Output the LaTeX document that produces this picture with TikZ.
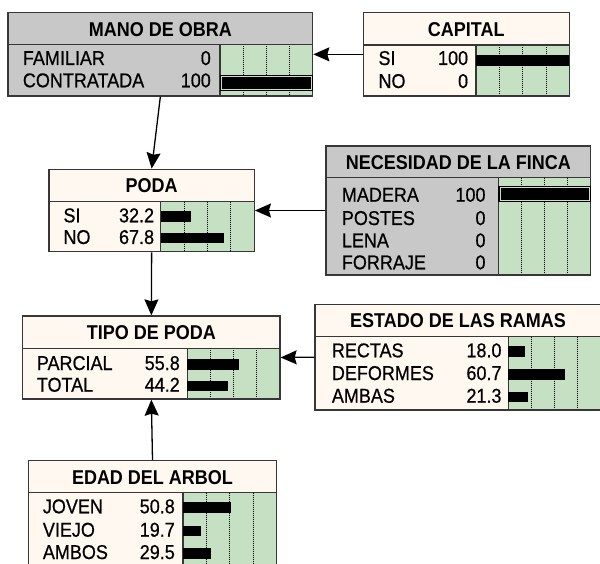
\documentclass[tikz,border=0pt]{standalone}
\usepackage{fontspec}
\setmainfont{Liberation Sans}[FakeStretch=0.9]
\newfontfamily\itemfont{Liberation Sans}[FakeStretch=0.9,FakeBold=0.6]
\usetikzlibrary{arrows.meta,fit}
\definecolor{nodegrey}{RGB}{200,200,200}
\definecolor{nodecream}{RGB}{255,248,240}
\definecolor{bargreen}{RGB}{197,224,195}
\definecolor{edgegrey}{RGB}{55,55,55}
\tikzset{
  boxline/.style={draw=edgegrey,line width=1.3pt},
  gridline/.style={black,line width=0.9pt,dash pattern=on 1pt off 1pt},
  itemtext/.style={inner sep=0pt,font=\fontsize{20}{22}\itemfont},
  titletext/.style={inner sep=0pt,font=\fontsize{20}{22}\selectfont\bfseries,anchor=base},
  link/.style={line width=1.3pt,black,-{Stealth[length=16pt,width=14pt,inset=2pt]}},
}
% #1 name #2 left #3 top #4 right #5 title bottom #6 bottom #7 bar left #8 fill #9 title
\newcommand{\netbox}[9]{%
  \fill[#8] (#2,#3) rectangle (#4,#6);
  \fill[bargreen] (#7,#5) rectangle (#4,#6);
  \foreach \f in {0.25,0.5,0.75}{\draw[gridline] ({#7+\f*(#4-#7)},#5) -- ({#7+\f*(#4-#7)},#6);}
  \node[titletext] (#1-title) at ({(#2+#4)/2},{#3+23.5}) {#9};
  \draw[boxline] (#2,#5) -- (#4,#5);
  \draw[boxline] (#7,#5) -- (#7,#6);
  \node[fit={(#2,#3) (#4,#6)},inner sep=0pt,boxline] (#1) {};
}
% #1 label x #2 value x #3 baseline #4 label #5 value
\newcommand{\netrow}[5]{%
  \node[itemtext,anchor=base west] at (#1,#3) {#4};
  \node[itemtext,anchor=base east] at (#2,#3) {#5};
}
% #1 bar left #2 bar right #3 baseline #4 fraction
\newcommand{\netbar}[4]{%
  \fill[black] (#1,{#3-11}) rectangle ({#1+#4*(#2-#1)},{#3-0.5});
}
% evidence bar: #1 left #2 right #3 top #4 bottom
\newcommand{\findbar}[4]{%
  \fill[black] (#1,#3) rectangle (#2,#4);
  \draw[bargreen,line width=0.8pt] ({#1+1.6},{#3+1.6}) rectangle ({#2-1.6},{#4-1.6});
  \fill[black] ({#1+2.4},{#3+2.4}) rectangle ({#2-2.4},{#4-2.4});
}
\begin{document}
\begin{tikzpicture}[x=1pt,y=-1pt]
\clip (0,0) rectangle (600,564);
\fill[white] (0,0) rectangle (600,564);

% MANO DE OBRA
\netbox{mano}{8}{12.7}{312.7}{44.3}{96}{220}{nodegrey}{MANO DE OBRA}
\netrow{22.7}{211}{65}{FAMILIAR}{0}
\netrow{22.7}{211}{87.3}{CONTRATADA}{100}
\findbar{220}{312.7}{75}{90.7}

% CAPITAL
\netbox{capital}{363.3}{12.7}{569.3}{45}{96}{476}{nodecream}{CAPITAL}
\netrow{378.3}{468.3}{65}{SI}{100}
\netrow{378.3}{468.3}{88}{NO}{0}
\fill[black] (476,55) rectangle (569.3,65.7);

% PODA
\netbox{poda}{49}{169.3}{254.3}{201.7}{251.7}{160.7}{nodecream}{PODA}
\netrow{63.3}{154.3}{222.3}{SI}{32.2}
\netrow{63.3}{154.3}{244}{NO}{67.8}
\netbar{160.7}{254.3}{222.3}{0.322}
\netbar{160.7}{254.3}{244}{0.678}

% NECESIDAD DE LA FINCA
\netbox{necesidad}{326}{146}{590.7}{177.7}{275}{498.3}{nodegrey}{NECESIDAD DE LA FINCA}
\netrow{341.7}{485.7}{201.7}{MADERA}{100}
\netrow{341.7}{485.7}{225}{POSTES}{0}
\netrow{341.7}{485.7}{247.3}{LENA}{0}
\netrow{341.7}{485.7}{269.3}{FORRAJE}{0}
\findbar{498.3}{590.7}{186}{201.7}

% TIPO DE PODA
\netbox{tipo}{22.7}{316}{280}{348.3}{399}{187.3}{nodecream}{TIPO DE PODA}
\netrow{36.7}{180}{370}{PARCIAL}{55.8}
\netrow{36.7}{180}{391.7}{TOTAL}{44.2}
\netbar{187.3}{280}{370}{0.558}
\netbar{187.3}{280}{391.7}{0.442}

% ESTADO DE LAS RAMAS
\netbox{estado}{315}{304.3}{601}{336.7}{410}{508.3}{nodecream}{ESTADO DE LAS RAMAS}
\netrow{331.7}{501.7}{357.3}{RECTAS}{18.0}
\netrow{331.7}{501.7}{380}{DEFORMES}{60.7}
\netrow{331.7}{501.7}{402.7}{AMBAS}{21.3}
\netbar{508.3}{601}{357.3}{0.180}
\netbar{508.3}{601}{380}{0.607}
\netbar{508.3}{601}{402.7}{0.213}

% EDAD DEL ARBOL
\netbox{edad}{28.3}{460.7}{276.7}{492.7}{566}{183}{nodecream}{EDAD DEL ARBOL}
\netrow{42.7}{175}{513.3}{JOVEN}{50.8}
\netrow{42.7}{175}{536.7}{VIEJO}{19.7}
\netrow{42.7}{175}{559}{AMBOS}{29.5}
\netbar{183}{276.7}{513.3}{0.508}
\netbar{183}{276.7}{536.7}{0.197}
\netbar{183}{276.7}{559}{0.295}

% links
\draw[link] (capital.west) -- (mano.east);
\draw[link] (mano.south) -- (poda.north);
\draw[link] (necesidad.west) -- (poda.east);
\draw[link] (poda.south) -- (tipo.north);
\draw[link] (estado.west) -- (tipo.east);
\draw[link] (edad.north) -- (tipo.south);
\end{tikzpicture}
\end{document}
